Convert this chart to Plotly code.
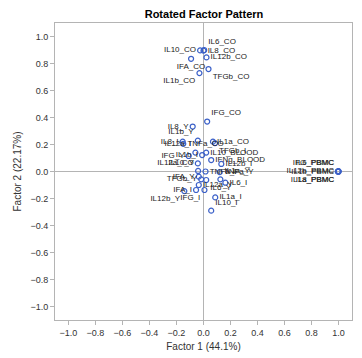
import plotly.graph_objects as go

# ---- data ----
names = [
    "IL10_CO", "IL6_CO", "IL8_CO", "IL12b_CO", "IFA_CO", "TFGb_CO", "IL1b_CO",
    "IFG_CO", "IL8_Y", "IL1b_Y", "IL8_I", "TNFa_CO", "IL1a_CO", "TFGb_I",
    "IL12a_I", "IL10_BLOOD", "IFG_Y", "IL1b_I", "IFNg_BLOOD", "IL12b_I",
    "IL12a_CO", "IL10_Y", "TNFa_I", "TNFa_Y", "IFA_Y", "TFGb_Y", "IL6_Y",
    "IL1a_Y", "IL6_I", "IL12a_Y", "IFA_I", "IL12b_Y", "IFG_I", "IL1a_I", "IL10_I",
    "IL6_PBMC", "IFG_PBMC", "IL1b_PBMC", "IL12b_PBMC", "IL8_PBMC", "IL1a_PBMC",
]
factor1 = [
    -0.025, 0.005, 0.000, 0.022, -0.092, 0.037, -0.030,
    0.027, -0.080, -0.042, -0.154, -0.150, 0.070, 0.085,
    -0.060, 0.020, -0.110, -0.010, 0.057, 0.132,
    -0.042, -0.040, 0.015, 0.120, -0.035, -0.017, 0.020,
    0.125, 0.162, -0.035, -0.055, -0.142, 0.007, 0.087, 0.057,
    1.000, 0.995, 1.000, 0.998, 1.000, 0.997,
]
factor2 = [
    0.897, 0.900, 0.895, 0.845, 0.835, 0.759, 0.729,
    0.370, 0.333, 0.229, 0.221, 0.205, 0.221, 0.210,
    0.140, 0.140, 0.115, 0.122, 0.085, 0.056,
    0.060, 0.004, 0.000, -0.005, -0.038, -0.058, -0.063,
    -0.058, -0.083, -0.100, -0.137, -0.145, -0.137, -0.192, -0.290,
    0.003, 0.000, 0.000, 0.002, -0.002, 0.000,
]
x_ticks = [-1.0, -0.8, -0.6, -0.4, -0.2, 0.0, 0.2, 0.4, 0.6, 0.8, 1.0]
y_ticks = [-1.0, -0.8, -0.6, -0.4, -0.2, 0.0, 0.2, 0.4, 0.6, 0.8, 1.0]

# ---- label placement (style) ----
label_pos = {
    "IL10_CO": "middle left", "IL6_CO": "top right", "IL8_CO": "middle right",
    "IL12b_CO": "middle right", "IFA_CO": "bottom center", "TFGb_CO": "bottom right",
    "IL1b_CO": "bottom left", "IFG_CO": "top right", "IL8_Y": "middle left",
    "IL1b_Y": "top left", "IL8_I": "middle left", "TNFa_CO": "middle right",
    "IL1a_CO": "middle right", "TFGb_I": "bottom right", "IL12a_I": "top left",
    "IL10_BLOOD": "middle right", "IFG_Y": "middle left", "IL1b_I": "middle left",
    "IFNg_BLOOD": "middle right", "IL12b_I": "middle right", "IL12a_CO": "middle left",
    "IL10_Y": "top left", "TNFa_I": "middle right", "TNFa_Y": "middle right",
    "IFA_Y": "middle left", "TFGb_Y": "middle left", "IL6_Y": "bottom right",
    "IL1a_Y": "top right", "IL6_I": "middle right", "IL12a_Y": "middle right",
    "IFA_I": "middle left", "IL12b_Y": "bottom left", "IFG_I": "bottom left",
    "IL1a_I": "middle right", "IL10_I": "top right",
    "IL6_PBMC": "top left", "IFG_PBMC": "top left", "IL1b_PBMC": "middle left",
    "IL12b_PBMC": "middle left", "IL8_PBMC": "bottom left", "IL1a_PBMC": "bottom left",
}

FONT = "Liberation Sans, Arial, sans-serif"

fig = go.Figure()
fig.add_trace(go.Scatter(
    x=factor1, y=factor2, mode="markers+text",
    text=names, textposition=[label_pos[n] for n in names],
    textfont=dict(family=FONT, size=8, color="#222222"),
    marker=dict(symbol="circle-open", size=5, color="#3b60c8", line=dict(width=1.2, color="#3b60c8")),
    hoverinfo="text", showlegend=False, cliponaxis=False,
))

axis_common = dict(
    range=[-1.1, 1.1], tickvals=x_ticks, tickformat=".1f",
    showgrid=False, zeroline=True, zerolinecolor="#b4b4b4", zerolinewidth=1,
    showline=True, linecolor="#b4b4b4", linewidth=1, mirror=True,
    ticks="outside", ticklen=4, tickcolor="#b4b4b4", automargin=False,
    tickfont=dict(family=FONT, size=9, color="#333333"),
)
fig.update_xaxes(**axis_common,
                 title=dict(text="Factor 1 (44.1%)", standoff=6,
                            font=dict(family=FONT, size=10, color="#333333")))
fig.update_yaxes(**{**axis_common, "tickvals": y_ticks},
                 title=dict(text="Factor 2 (22.17%)", standoff=6,
                            font=dict(family=FONT, size=10, color="#333333")))

# the page body adds an 8px offset; the figure size/margins compensate for it
fig.update_layout(
    width=354, height=350,
    margin=dict(l=47, r=10, t=15, b=38),
    paper_bgcolor="white", plot_bgcolor="white",
    title=dict(text="<b>Rotated Factor Pattern</b>", x=(204 - 8) / 354, xanchor="center",
               y=1 - 6 / 350, yanchor="middle",
               font=dict(family=FONT, size=11, color="#000000")),
)

fig.write_html("out.html")
